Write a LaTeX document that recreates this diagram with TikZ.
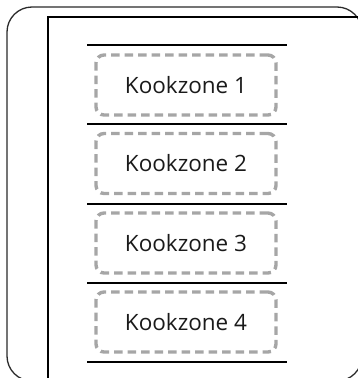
\documentclass[tikz,border=0pt]{standalone}
\usepackage{fontspec}
\setmainfont{Open Sans}
\definecolor{zonegray}{HTML}{A6A6A6}
\definecolor{framedark}{HTML}{2A2A2A}
\definecolor{textdark}{HTML}{1A1A1A}
\begin{document}
\begin{tikzpicture}[x=1pt,y=-1pt,
  outerframe/.style={draw=framedark,line width=1.3pt,rounded corners=25pt},
  innerframe/.style={draw=black,line width=2pt},
  divider/.style={draw=black,line width=1.6pt},
  zone/.style={draw=zonegray,line width=3.4pt,dash pattern=on 8.5pt off 5pt,
    rounded corners=8pt,minimum width=180pt,minimum height=60pt,inner sep=0pt,
    text=textdark,font=\fontsize{22.5}{27}\selectfont}]
\useasboundingbox (0,0) rectangle (358,378);
\clip (0,0) rectangle (358,378);
\draw[outerframe] (7,7) rectangle (362,381);
\draw[innerframe] (48,17) rectangle (380,400);
\foreach \y/\n in {45/l0,124/l1,204/l2,283/l3,362/l4}{
  \coordinate (\n a) at (87,\y);
  \coordinate (\n b) at (287,\y);
  \draw[divider] (\n a) -- (\n b);
}
\node[zone] (z1) at (186,85) {Kookzone 1};
\node[zone] (z2) at (186,163.5) {Kookzone 2};
\node[zone] (z3) at (186,243) {Kookzone 3};
\node[zone] (z4) at (186,322) {Kookzone 4};
\end{tikzpicture}
\end{document}
